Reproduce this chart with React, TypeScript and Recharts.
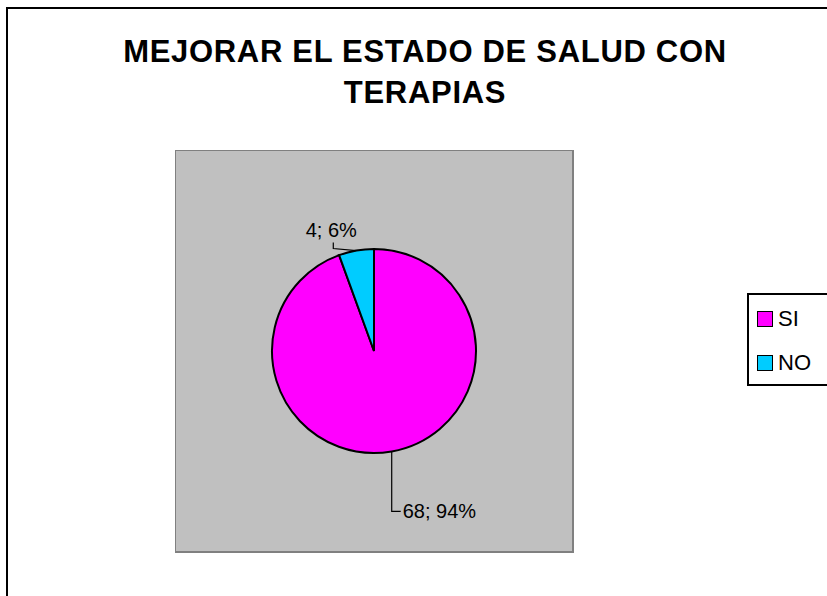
import { PieChart, Pie, Cell } from "recharts";

const categories = ["SI", "NO"];
const values = [68, 4];
const colors = ["#FF00FF", "#00CCFF"];

const data = categories.map((name, i) => ({ name, value: values[i] }));
const total = values.reduce((a, b) => a + b, 0);

const RAD = Math.PI / 180;
const FONT = "Arial, 'Liberation Sans', sans-serif";

const renderLabel = (props: any) => {
  const { cx, cy, midAngle, outerRadius, index, value } = props;
  const x0 = cx + outerRadius * Math.cos(-midAngle * RAD);
  const y0 = cy + outerRadius * Math.sin(-midAngle * RAD);
  const pct = Math.round((value / total) * 100);
  const text = `${value}; ${pct}%`;
  if (index === 0) {
    // straight down, then a short tick right
    const y1 = y0 + 60;
    return (
      <g>
        <polyline
          points={`${x0},${y0} ${x0},${y1} ${x0 + 9},${y1}`}
          fill="none"
          stroke="#000"
          strokeWidth={1.2}
        />
        <text x={x0 + 11} y={y1 + 7} fontSize={20} fill="#000" fontFamily={FONT}>
          {text}
        </text>
      </g>
    );
  }
  const x1 = x0 - 23;
  const y1 = y0 - 8;
  return (
    <g>
      <polyline
        points={`${x0},${y0} ${x1},${y0 - 2} ${x1},${y1}`}
        fill="none"
        stroke="#000"
        strokeWidth={1.2}
      />
      <text x={x1 - 2} y={y1 - 6} textAnchor="middle" fontSize={20} fill="#000" fontFamily={FONT}>
        {text}
      </text>
    </g>
  );
};

export default function App() {
  return (
    <div style={{ position: "absolute", left: 0, top: 0, width: 827, height: 596, background: "#fff", fontFamily: FONT, overflow: "hidden" }}>
      {/* outer chart frame */}
      <div style={{ position: "absolute", left: 6, top: 7, width: 900, height: 700, border: "2px solid #000", boxSizing: "border-box" }} />
      {/* plot area */}
      <div style={{ position: "absolute", left: 175, top: 150, width: 399, height: 403, background: "#C0C0C0", border: "1px solid #808080", borderRightWidth: 2, borderBottomWidth: 2, boxSizing: "border-box" }} />
      <div style={{ position: "absolute", left: 0, top: 31, width: 850, textAlign: "center", fontWeight: "bold", fontSize: 31, letterSpacing: 0.7, lineHeight: "41px", color: "#000" }}>
        <div>MEJORAR EL ESTADO DE SALUD CON</div>
        <div>TERAPIAS</div>
      </div>
      <div style={{ position: "absolute", left: 0, top: 0 }}>
        <PieChart width={827} height={596} margin={{ top: 0, right: 0, bottom: 0, left: 0 }}>
          <Pie
            data={data}
            dataKey="value"
            nameKey="name"
            cx={374}
            cy={351}
            outerRadius={102}
            startAngle={90}
            endAngle={-270}
            stroke="#000"
            strokeWidth={2}
            label={renderLabel}
            labelLine={false}
            isAnimationActive={false}
          >
            {data.map((d, i) => (
              <Cell key={d.name} fill={colors[i]} />
            ))}
          </Pie>
        </PieChart>
      </div>
      {/* legend */}
      <div style={{ position: "absolute", left: 747, top: 293, width: 120, height: 93, border: "2px solid #000", boxSizing: "border-box", background: "#fff" }}>
        {data.map((d, i) => (
          <div key={d.name} style={{ position: "absolute", left: 8, top: 12 + i * 44, display: "flex", alignItems: "center", fontSize: 22, lineHeight: "24px" }}>
            <span style={{ display: "inline-block", width: 16, height: 16, background: colors[i], border: "1.5px solid #000", boxSizing: "border-box", marginRight: 5 }} />
            <span>{d.name}</span>
          </div>
        ))}
      </div>
    </div>
  );
}
